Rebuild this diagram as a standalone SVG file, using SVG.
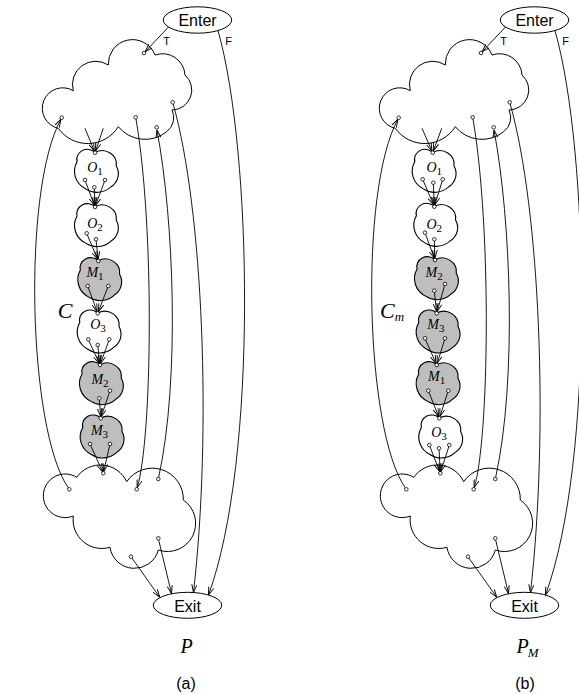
<svg xmlns="http://www.w3.org/2000/svg" width="579" height="694" viewBox="0 0 579 694">
<style>
.w{fill:#fff;stroke:#000;stroke-width:1}
.g{fill:#bebebe;stroke:#000;stroke-width:1}
.e{fill:#fff;stroke:#000;stroke-width:1}
.ln path{fill:none;stroke:#000;stroke-width:0.9;marker-end:url(#ah)}
.pt{fill:#fff;stroke:#000;stroke-width:0.8}
.lb{font-family:"Liberation Serif","Times New Roman",serif;font-style:italic;font-size:14px}
.sb{font-style:normal;font-size:11px}
.sf{font-family:"Liberation Sans",Arial,sans-serif}
.big{font-family:"Liberation Serif","Times New Roman",serif;font-style:italic}
</style>
<defs>
<marker id="ah" viewBox="0 0 8 6" refX="8" refY="3" markerWidth="8" markerHeight="6" markerUnits="userSpaceOnUse" orient="auto"><path d="M0,0.4 L8,3 L0,5.6" fill="none" stroke="#000" stroke-width="0.9"/></marker>
<path id="topCloud" d="M73.3,90.7 A23.2,23.2 0 0 1 108.3,65 A24.2,24.2 0 0 1 155,55 A22.5,22.5 0 0 1 185,75 A20,20 0 0 1 172,110 A17.6,17.6 0 0 1 166.7,131.7 A34.5,34.5 0 0 1 118.3,126.7 A36.1,36.1 0 0 1 58.3,128.3 A20.5,20.5 0 1 1 73.3,90.7 Z"/>
<path id="botCloud" d="M76.7,477.3 A29,29 0 0 1 126.7,481.7 A31,31 0 0 1 183.3,500 A28.2,28.2 0 0 1 158.3,550 A24.7,24.7 0 0 1 110,547.3 A28.8,28.8 0 0 1 73.3,516 A21.8,21.8 0 1 1 76.7,477.3 Z"/>
<path id="sc" d="M-16,-8 A9.5,9.5 0 0 1 0,-17 A12.9,12.9 0 0 1 19,-4 A15.3,15.3 0 0 1 14,16 A17.1,17.1 0 0 1 -8,18 A19,19 0 0 1 -16,-8 Z"/>
</defs>

<!-- Panel (a) -->
<g id="panelA">
<g id="a-enter"><ellipse class="e" cx="197.5" cy="20" rx="34.2" ry="13.2"/><text class="sf" x="197.5" y="26" font-size="16" text-anchor="middle">Enter</text></g>
<g id="a-exit"><ellipse class="e" cx="187.5" cy="605.3" rx="34.2" ry="13"/><text class="sf" x="187.5" y="611.5" font-size="16" text-anchor="middle">Exit</text></g>
<g id="a-top"><use href="#topCloud" class="w"/>
<circle class="pt" cx="144" cy="53" r="1.8"/><circle class="pt" cx="61.7" cy="117.7" r="1.8"/><circle class="pt" cx="135.7" cy="117.3" r="1.8"/><circle class="pt" cx="156.7" cy="127.3" r="1.8"/><circle class="pt" cx="172.7" cy="102.3" r="1.8"/></g>
<g id="a-bottom"><use href="#botCloud" class="w"/>
<circle class="pt" cx="103.3" cy="473.3" r="1.8"/><circle class="pt" cx="69.3" cy="489.3" r="1.8"/><circle class="pt" cx="136.7" cy="489.3" r="1.8"/><circle class="pt" cx="158.3" cy="479" r="1.8"/><circle class="pt" cx="158.3" cy="538.3" r="1.8"/><circle class="pt" cx="131" cy="556.7" r="1.8"/></g>
<g id="a-O1"><use href="#sc" class="w" transform="translate(95,170.2) scale(1.12,1.05)"/><text class="lb" x="95" y="172.2" text-anchor="middle">O<tspan class="sb" dy="3">1</tspan></text>
<circle class="pt" cx="95" cy="152.7" r="1.8"/><circle class="pt" cx="85" cy="180" r="1.8"/><circle class="pt" cx="94.3" cy="187.3" r="1.8"/><circle class="pt" cx="105" cy="180" r="1.8"/></g>
<g id="a-O2"><use href="#sc" class="w" transform="translate(95,224.5) scale(1.12,1.05)"/><text class="lb" x="95" y="228.2" text-anchor="middle">O<tspan class="sb" dy="3">2</tspan></text>
<circle class="pt" cx="95" cy="207" r="1.8"/><circle class="pt" cx="86.7" cy="233.3" r="1.8"/><circle class="pt" cx="96" cy="239.3" r="1.8"/></g>
<g id="a-M1"><use href="#sc" class="g" transform="translate(98.3,278.5) scale(1.12,1.05)"/><text class="lb" x="95" y="277.2" text-anchor="middle">M<tspan class="sb" dy="3">1</tspan></text>
<circle class="pt" cx="98.3" cy="261" r="1.8"/><circle class="pt" cx="87.7" cy="286" r="1.8"/><circle class="pt" cx="108.3" cy="286" r="1.8"/></g>
<g id="a-O3"><use href="#sc" class="w" transform="translate(97.7,330.8) scale(1.12,1.05)"/><text class="lb" x="98" y="329.2" text-anchor="middle">O<tspan class="sb" dy="3">3</tspan></text>
<circle class="pt" cx="97.7" cy="313.3" r="1.8"/><circle class="pt" cx="88.3" cy="339.3" r="1.8"/><circle class="pt" cx="97.7" cy="345" r="1.8"/><circle class="pt" cx="109.3" cy="339.3" r="1.8"/></g>
<g id="a-M2"><use href="#sc" class="g" transform="translate(100,382.5) scale(1.12,1.05)"/><text class="lb" x="100" y="384.2" text-anchor="middle">M<tspan class="sb" dy="3">2</tspan></text>
<circle class="pt" cx="100" cy="365" r="1.8"/><circle class="pt" cx="99.3" cy="398.3" r="1.8"/><circle class="pt" cx="110" cy="390.7" r="1.8"/></g>
<g id="a-M3"><use href="#sc" class="g" transform="translate(100.7,435.8) scale(1.12,1.05)"/><text class="lb" x="99.5" y="435.2" text-anchor="middle">M<tspan class="sb" dy="3">3</tspan></text>
<circle class="pt" cx="100.7" cy="418.3" r="1.8"/><circle class="pt" cx="90" cy="444" r="1.8"/><circle class="pt" cx="110" cy="444" r="1.8"/></g>

<g id="a-edges" class="ln">
<path d="M168.5,27 L145.2,51.7"/>
<path d="M218,30.6 C252,150 258,460 208.5,595"/>
<path d="M173.2,104 C203,210 212,430 193.5,592.5"/>
<path d="M136,119.1 C155,230 152,440 137.2,487.6"/>
<path d="M158.7,477.2 C180,380 174,220 157,130.1"/>
<path d="M68.3,487.8 C28,430 22,190 60.9,119.3"/>
<path d="M132,558.2 L159.8,597.3"/>
<path d="M158.7,540.1 L171.5,593.6"/>
<path d="M85,128.3 L94.3,151"/><path d="M103.3,128.3 L95.6,151"/>
<path d="M85.6,181.7 L94.4,205.3"/><path d="M94.4,189.1 L94.9,205.2"/><path d="M104.4,181.7 L95.6,205.3"/>
<path d="M87.4,235 L97.6,259.3"/><path d="M96.2,241.1 L98.1,259.2"/>
<path d="M88.3,287.7 L97.1,311.6"/><path d="M107.6,287.7 L98.4,311.6"/>
<path d="M89,341 L99.3,363.4"/><path d="M97.9,346.8 L99.8,363.2"/><path d="M108.7,341 L100.6,363.3"/>
<path d="M99.4,400.1 L100.6,416.5"/><path d="M109.4,392.4 L101.3,416.6"/>
<path d="M90.7,445.6 L102.6,471.7"/><path d="M109.6,445.8 L103.7,471.5"/>
</g>
<g id="a-labels">
<text class="sf" x="166.5" y="45" font-size="11" text-anchor="middle">T</text>
<text class="sf" x="228.5" y="45" font-size="11" text-anchor="middle">F</text>
<text class="big" x="65" y="318" font-size="22" text-anchor="middle">C</text>
<text class="big" x="186.5" y="653" font-size="20" text-anchor="middle">P</text>
<text class="sf" x="186" y="689" font-size="16" text-anchor="middle">(a)</text>
</g>
</g>

<!-- Panel (b) -->
<g id="panelB" transform="translate(337,0)">
<g id="b-enter"><ellipse class="e" cx="197.5" cy="20" rx="34.2" ry="13.2"/><text class="sf" x="197.5" y="26" font-size="16" text-anchor="middle">Enter</text></g>
<g id="b-exit"><ellipse class="e" cx="187.5" cy="605.3" rx="34.2" ry="13"/><text class="sf" x="187.5" y="611.5" font-size="16" text-anchor="middle">Exit</text></g>
<g id="b-top"><use href="#topCloud" class="w"/>
<circle class="pt" cx="144" cy="53" r="1.8"/><circle class="pt" cx="61.7" cy="117.7" r="1.8"/><circle class="pt" cx="135.7" cy="117.3" r="1.8"/><circle class="pt" cx="156.7" cy="127.3" r="1.8"/><circle class="pt" cx="172.7" cy="102.3" r="1.8"/></g>
<g id="b-bottom"><use href="#botCloud" class="w"/>
<circle class="pt" cx="103.3" cy="473.3" r="1.8"/><circle class="pt" cx="69.3" cy="489.3" r="1.8"/><circle class="pt" cx="136.7" cy="489.3" r="1.8"/><circle class="pt" cx="158.3" cy="479" r="1.8"/><circle class="pt" cx="158.3" cy="538.3" r="1.8"/><circle class="pt" cx="131" cy="556.7" r="1.8"/></g>
<g id="b-O1"><use href="#sc" class="w" transform="translate(95.7,170.2) scale(1.12,1.05)"/><text class="lb" x="97.2" y="172.2" text-anchor="middle">O<tspan class="sb" dy="3">1</tspan></text>
<circle class="pt" cx="95.7" cy="152.7" r="1.8"/><circle class="pt" cx="85.7" cy="179.3" r="1.8"/><circle class="pt" cx="96.3" cy="182.7" r="1.8"/><circle class="pt" cx="105.7" cy="179.3" r="1.8"/></g>
<g id="b-O2"><use href="#sc" class="w" transform="translate(97.3,224.2) scale(1.12,1.05)"/><text class="lb" x="97.2" y="229.2" text-anchor="middle">O<tspan class="sb" dy="3">2</tspan></text>
<circle class="pt" cx="97.3" cy="206.7" r="1.8"/><circle class="pt" cx="88" cy="232.7" r="1.8"/><circle class="pt" cx="97.3" cy="239.3" r="1.8"/></g>
<g id="b-M2"><use href="#sc" class="g" transform="translate(98,277.5) scale(1.12,1.05)"/><text class="lb" x="97.2" y="277.2" text-anchor="middle">M<tspan class="sb" dy="3">2</tspan></text>
<circle class="pt" cx="98" cy="260" r="1.8"/><circle class="pt" cx="97.3" cy="290.7" r="1.8"/><circle class="pt" cx="108" cy="284" r="1.8"/></g>
<g id="b-M3"><use href="#sc" class="g" transform="translate(99.7,330.8) scale(1.12,1.05)"/><text class="lb" x="98.8" y="329.2" text-anchor="middle">M<tspan class="sb" dy="3">3</tspan></text>
<circle class="pt" cx="99.7" cy="313.3" r="1.8"/><circle class="pt" cx="88" cy="338.3" r="1.8"/><circle class="pt" cx="108" cy="338.3" r="1.8"/></g>
<g id="b-M1"><use href="#sc" class="g" transform="translate(99.7,382.5) scale(1.12,1.05)"/><text class="lb" x="99.7" y="380.7" text-anchor="middle">M<tspan class="sb" dy="3">1</tspan></text>
<circle class="pt" cx="99.7" cy="365" r="1.8"/><circle class="pt" cx="91.3" cy="390.7" r="1.8"/><circle class="pt" cx="111.3" cy="390.7" r="1.8"/></g>
<g id="b-O3"><use href="#sc" class="w" transform="translate(102.3,435.8) scale(1.12,1.05)"/><text class="lb" x="102" y="437.2" text-anchor="middle">O<tspan class="sb" dy="3">3</tspan></text>
<circle class="pt" cx="102.3" cy="418.3" r="1.8"/><circle class="pt" cx="92.3" cy="445" r="1.8"/><circle class="pt" cx="102" cy="448.3" r="1.8"/><circle class="pt" cx="112.3" cy="445" r="1.8"/></g>

<g id="b-edges" class="ln">
<path d="M168.5,27 L145.2,51.7"/>
<path d="M218,30.6 C252,150 258,460 208.5,595"/>
<path d="M173.2,104 C203,210 212,430 193.5,592.5"/>
<path d="M136,119.1 C155,230 152,440 137.2,487.6"/>
<path d="M158.7,477.2 C180,380 174,220 157,130.1"/>
<path d="M68.3,487.8 C28,430 22,190 60.9,119.3"/>
<path d="M132,558.2 L159.8,597.3"/>
<path d="M158.7,540.1 L171.5,593.6"/>
<path d="M85,128.3 L95,151"/><path d="M104.7,128.3 L96.3,151"/>
<path d="M86.4,181 L96.6,205"/><path d="M96.4,184.5 L97.2,204.9"/><path d="M105.2,181 L97.8,205"/>
<path d="M88.6,234.4 L97.4,258.3"/><path d="M97.4,241.1 L97.9,258.2"/>
<path d="M97.5,292.5 L99.5,311.5"/><path d="M107.5,285.7 L100.2,311.6"/>
<path d="M88.7,340 L99,363.4"/><path d="M107.5,340 L100.2,363.3"/>
<path d="M92,392.4 L101.6,416.6"/><path d="M110.7,392.4 L102.9,416.6"/>
<path d="M93,446.7 L102.6,471.6"/><path d="M102.1,450.1 L103.2,471.5"/><path d="M111.8,446.7 L103.8,471.6"/>
</g>
<g id="b-labels">
<text class="sf" x="166.5" y="45" font-size="11" text-anchor="middle">T</text>
<text class="sf" x="228.5" y="45" font-size="11" text-anchor="middle">F</text>
<text class="big" x="43" y="318" font-size="22">C<tspan font-size="13" dy="3">m</tspan></text>
<text class="big" x="179.5" y="653" font-size="20">P<tspan font-size="13" dx="-1" dy="4">M</tspan></text>
<text class="sf" x="188" y="689" font-size="16" text-anchor="middle">(b)</text>
</g>
</g>
</svg>
